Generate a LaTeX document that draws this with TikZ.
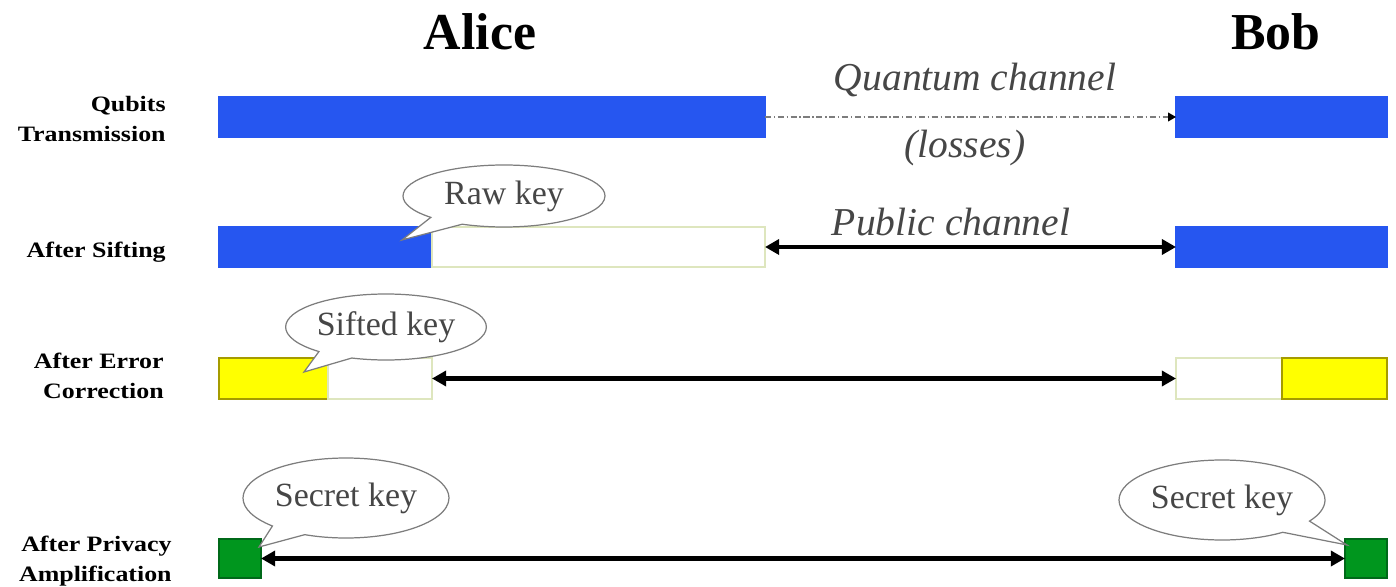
\documentclass[tikz,border=0pt]{standalone}
\usepackage{fontspec}
\setmainfont{Liberation Serif}
\usetikzlibrary{arrows.meta,shapes.callouts}
\definecolor{qblue}{RGB}{38,86,240}
\definecolor{qyellow}{RGB}{255,255,0}
\definecolor{qyedge}{RGB}{165,155,0}
\definecolor{qgreen}{RGB}{0,150,30}
\definecolor{qgedge}{RGB}{0,105,25}
\definecolor{qwedge}{RGB}{222,230,190}
\definecolor{qtext}{RGB}{70,70,70}
\definecolor{qline}{RGB}{125,125,125}
\def\PX{0.02cm}
\newcommand\lblx[1]{\scalebox{1.18}[1]{#1}}
\begin{document}
\begin{tikzpicture}[x=0.02cm,y=-0.02cm,
  bar/.style={rectangle, anchor=north west, inner sep=0pt, outer sep=0pt, line width=0.6pt},
  bluebar/.style={bar, fill=qblue, draw=qblue},
  yellowbar/.style={bar, fill=qyellow, draw=qyedge},
  greenbar/.style={bar, fill=qgreen, draw=qgedge},
  whitebar/.style={bar, fill=white, draw=qwedge},
  title/.style={font=\fontsize{29.5}{32}\selectfont\bfseries, inner sep=0pt},
  rowlabel/.style={font=\fontsize{12.5}{17}\selectfont\bfseries, align=right, anchor=east, inner sep=0pt},
  chan/.style={font=\fontsize{22.5}{26}\selectfont\itshape, text=qtext, inner sep=0pt},
  keycall/.style={ellipse callout, draw=qline, fill=white, line width=0.7pt, text=qtext,
    font=\fontsize{19.3}{22}\selectfont, inner sep=1pt, callout pointer arc=22},
  bigarrow/.style={line width=2.3pt, black, {Triangle[length=8pt,width=8.5pt]}-{Triangle[length=8pt,width=8.5pt]}},
  qarrow/.style={line width=0.6pt, qline, dash pattern=on 3.5pt off 1.5pt on 0.8pt off 1.5pt,
    -{Triangle[length=4.5pt,width=5pt,color=black]}}
]
\useasboundingbox (0,0) rectangle (1396,587);

% titles
\node[title] (alice) at (480,32) {Alice};
\node[title] (bob) at (1276,32) {Bob};

% row labels
\node[rowlabel] (l1) at (166,119) {\lblx{Qubits}\\\lblx{Transmission}};
\node[rowlabel] (l2) at (166,252) {\lblx{After Sifting}};
\node[rowlabel] (l3) at (164,376) {\lblx{After Error}\\\lblx{Correction}};
\node[rowlabel] (l4) at (172,561) {\lblx{After Privacy}\\\lblx{Amplification}};

% row 1
\node[bluebar, minimum width=546*\PX, minimum height=40*\PX] (a1) at (219,97) {};
\node[bluebar, minimum width=211*\PX, minimum height=40*\PX] (b1) at (1176,97) {};
% row 2
\node[bluebar, minimum width=213*\PX, minimum height=40*\PX] (a2b) at (219,227) {};
\node[whitebar, minimum width=333*\PX, minimum height=40*\PX] (a2w) at (432,227) {};
\node[bluebar, minimum width=211*\PX, minimum height=40*\PX] (b2) at (1176,227) {};
% row 3
\node[yellowbar, minimum width=109*\PX, minimum height=41*\PX] (a3y) at (219,358) {};
\node[whitebar, minimum width=104*\PX, minimum height=41*\PX] (a3w) at (328,358) {};
\node[whitebar, minimum width=106*\PX, minimum height=41*\PX] (b3w) at (1176,358) {};
\node[yellowbar, minimum width=105*\PX, minimum height=41*\PX] (b3y) at (1282,358) {};
% row 4
\node[greenbar, minimum width=42*\PX, minimum height=39*\PX] (a4) at (219,539) {};
\node[greenbar, minimum width=42*\PX, minimum height=39*\PX] (b4) at (1345,539) {};

% channels
\draw[qarrow] (a1.east) -- (b1.west);
\node[chan] (qc) at (975,80) {Quantum channel};
\node[chan] (loss) at (965,148) {(losses)};
\draw[bigarrow] (a2w.east) -- (b2.west);
\node[chan] (pc) at (951,222) {Public channel};
\draw[bigarrow] (a3w.east) -- (b3w.west);
\draw[bigarrow] (a4.east) -- (b4.west);

% callouts
\coordinate (rawtip) at (402,240);
\coordinate (siftip) at (304,372);
\coordinate (secltip) at (259,547);
\coordinate (secrtip) at (1347,545);
\node[keycall, minimum width=202*\PX, minimum height=62*\PX, callout absolute pointer={(rawtip)}] (raw) at (504,196) {Raw key};
\node[keycall, minimum width=200*\PX, minimum height=66*\PX, callout absolute pointer={(siftip)}] (sift) at (386,327) {Sifted key};
\node[keycall, minimum width=203*\PX, minimum height=80*\PX, callout absolute pointer={(secltip)}] (secl) at (346,498) {Secret key};
\node[keycall, minimum width=199*\PX, minimum height=80*\PX, callout absolute pointer={(secrtip)}] (secr) at (1222,500) {Secret key};
\end{tikzpicture}
\end{document}
